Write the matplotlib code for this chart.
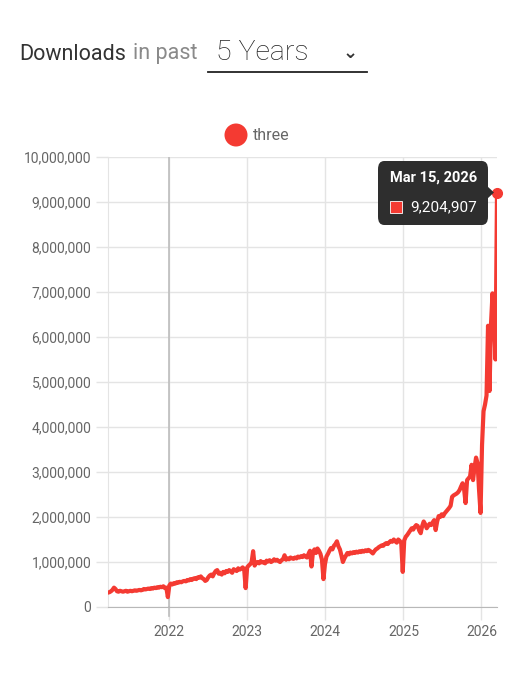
import numpy as np
import pandas as pd
import matplotlib
matplotlib.use("Agg")
import matplotlib.pyplot as plt
import matplotlib.dates as mdates
from matplotlib.patches import FancyBboxPatch, Polygon, Rectangle, Ellipse
from matplotlib.ticker import FuncFormatter, MultipleLocator

plt.rcParams['font.family'] = ['Roboto', 'DejaVu Sans']

# ---- data (weekly downloads, millions) ----
start_week = '2021-03-21'
end_week = '2026-03-15'
dl_2021 = [0.32, 0.33, 0.35, 0.38, 0.43, 0.40, 0.35, 0.34, 0.36, 0.35,
           0.34, 0.35, 0.36, 0.34, 0.35, 0.36, 0.35, 0.36, 0.37, 0.36,
           0.37, 0.38, 0.37, 0.38, 0.40, 0.39, 0.40, 0.41, 0.40, 0.42,
           0.41, 0.43, 0.42, 0.44, 0.43, 0.45, 0.44, 0.46, 0.42, 0.43,
           0.22]
dl_2022 = [0.48, 0.52, 0.50, 0.53, 0.52, 0.55, 0.54, 0.56, 0.55, 0.57,
           0.58, 0.57, 0.60, 0.59, 0.62, 0.60, 0.63, 0.64, 0.62, 0.66,
           0.65, 0.68, 0.64, 0.62, 0.58, 0.60, 0.66, 0.70, 0.72, 0.68,
           0.75, 0.80, 0.82, 0.74, 0.76, 0.72, 0.78, 0.75, 0.80, 0.78,
           0.82, 0.79, 0.76, 0.84, 0.82, 0.80, 0.86, 0.83, 0.85, 0.88,
           0.84, 0.42]
dl_2023 = [0.88, 0.92, 0.95, 1.00, 1.24, 0.92, 0.98, 1.00, 0.97, 1.02,
           0.99, 1.00, 0.97, 1.03, 1.01, 1.04, 1.00, 1.02, 1.06, 1.03,
           1.05, 1.02, 1.00, 1.04, 1.06, 1.15, 1.05, 1.08, 1.06, 1.10,
           1.08, 1.07, 1.10, 1.08, 1.12, 1.10, 1.13, 1.11, 1.15, 1.12,
           1.10, 1.18, 1.25, 0.90, 1.22, 1.28, 1.20, 1.30, 1.25, 1.18,
           1.05, 0.62, 0.95]
dl_2024 = [1.12, 1.18, 1.25, 1.31, 1.28, 1.36, 1.40, 1.46, 1.35, 1.28,
           1.15, 1.00, 1.08, 1.14, 1.20, 1.17, 1.21, 1.19, 1.22, 1.20,
           1.23, 1.21, 1.24, 1.22, 1.25, 1.23, 1.26, 1.24, 1.27, 1.25,
           1.22, 1.19, 1.24, 1.28, 1.30, 1.33, 1.35, 1.37, 1.36, 1.40,
           1.42, 1.40, 1.44, 1.47, 1.45, 1.50, 1.46, 1.43, 1.50, 1.47,
           1.42, 0.78]
dl_2025 = [1.48, 1.56, 1.60, 1.65, 1.70, 1.75, 1.72, 1.78, 1.82, 1.80,
           1.70, 1.64, 1.80, 1.90, 1.84, 1.75, 1.80, 1.85, 1.82, 1.88,
           1.93, 1.71, 1.90, 2.02, 2.00, 2.06, 2.02, 2.08, 2.12, 2.16,
           2.20, 2.25, 2.45, 2.48, 2.50, 2.52, 2.55, 2.60, 2.68, 2.75,
           2.62, 2.31, 2.82, 2.86, 2.90, 3.16, 2.82, 3.10, 3.32, 3.20,
           2.60, 2.09]
dl_2026 = [3.60, 4.35, 4.50, 4.70, 6.25, 4.80, 6.30, 6.97, 6.40, 5.50,
           9.204907]
package_name = 'three'
year_ticks = ['2022', '2023', '2024', '2025', '2026']

weeks = pd.date_range(start_week, end_week, freq='7D')
downloads = np.array(dl_2021 + dl_2022 + dl_2023 + dl_2024 + dl_2025 + dl_2026) * 1e6

RED = '#f43a32'
W, H = 519, 680

def fx(px):
    return px / W

def fy(py):
    return 1 - py / H

fig = plt.figure(figsize=(W / 100, H / 100), dpi=100)
ax = fig.add_axes([fx(108), fy(607), (497 - 108) / W, (607 - 157) / H])

ax.plot(weeks, downloads, color=RED, lw=3.0, solid_joinstyle='round', zorder=3)
ax.plot(weeks[-1:], downloads[-1:], 'o', color=RED, ms=7, zorder=4, clip_on=False)

ax.set_xlim(weeks[0], weeks[-1])
ax.set_ylim(0, 10e6)
ax.yaxis.set_major_locator(MultipleLocator(1e6))
ax.yaxis.set_major_formatter(FuncFormatter(lambda v, p: f'{int(v):,}'))
ax.set_xticks([pd.Timestamp(y + '-01-01') for y in year_ticks])
ax.set_xticklabels(year_ticks)

grid_c = '#e4e4e4'
ax.grid(True, color=grid_c, lw=1)
ax.set_axisbelow(True)
ax.tick_params(length=9, width=1, color=grid_c, labelsize=10, labelcolor='#666666', pad=3)
ax.tick_params(axis='x', pad=4)
for s in ['top', 'right']:
    ax.spines[s].set_visible(False)
ax.spines['left'].set_color(grid_c)
ax.spines['bottom'].set_color('#b8b8b8')

# highlighted 2022 line
x22 = pd.Timestamp('2022-01-01')
ax.axvline(x22, color='#bdbdbd', lw=1.2, zorder=1)
ax.plot([x22, x22], [0, -0.2e6], color='#bdbdbd', lw=1.2, clip_on=False)

# legend
fig.patches.append(Ellipse((fx(236), fy(135)), 23 / W, 23 / H, transform=fig.transFigure,
                           color=RED, ec='none'))
fig.text(fx(253), fy(135), package_name, fontsize=11.5, color='#666666', va='center')

# header
fig.text(fx(19), fy(54), 'Downloads', fontsize=15.5, color='#333333', va='center')
fig.text(fx(133), fy(54), 'in past', fontsize=15.5, color='#8a8a8a', va='center')
fig.text(fx(216), fy(53), '5 Years', fontsize=20.5, color='#222222', va='center',
         fontweight='light')
fig.text(fx(350), fy(53), '⌄', fontsize=13, color='#333333', va='center', ha='center',
         family=['DejaVu Sans'], fontweight='bold')
fig.add_artist(plt.Line2D([fx(208), fx(367)], [fy(71.5), fy(71.5)], color='#222222',
                          lw=1.3, transform=fig.transFigure))

# tooltip
tip = FancyBboxPatch((fx(378), fy(225)), (488 - 378) / W, (225 - 161) / H,
                     boxstyle='round,pad=0,rounding_size=0.012',
                     transform=fig.transFigure, fc='#2e2e2e', ec='none', zorder=10)
fig.patches.append(tip)
fig.patches.append(Polygon([(fx(487), fy(186)), (fx(494), fy(192.5)), (fx(487), fy(199))],
                           closed=True, transform=fig.transFigure, fc='#2e2e2e', ec='none',
                           zorder=10))
fig.text(fx(390), fy(178), weeks[-1].strftime('%b %d, %Y').replace(' 0', ' '),
         fontsize=10.5, fontweight='bold', color='white', va='center', zorder=11)
fig.patches.append(Rectangle((fx(390), fy(213)), 12 / W, 12 / H, transform=fig.transFigure,
                             fc=RED, ec='white', lw=0.6, zorder=11))
fig.text(fx(410), fy(207), f'{int(round(downloads[-1])):,}', fontsize=11,
         color='white', va='center', zorder=11)

fig.savefig('out.png', dpi=100)
